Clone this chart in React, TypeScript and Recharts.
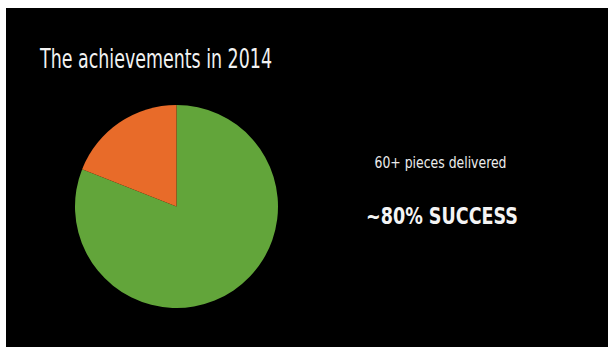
import { PieChart, Pie, Cell } from "recharts";

// share of delivered pieces
const outcomeNames = ["Success", "Not delivered"];
const outcomeValues = [81, 19];
const outcomeColors = ["#62a53a", "#e86b29"];

const titleText = "The achievements in 2014";
const noteText = "60+ pieces delivered";
const successText = "~80% SUCCESS";

const chartData = outcomeNames.map((name, i) => ({ name, value: outcomeValues[i] }));

const narrow = '"Liberation Sans Narrow", "DejaVu Sans Condensed", "Liberation Sans", sans-serif';

export default function App() {
  return (
    <div style={{ position: "fixed", left: 0, top: 0, width: 608, height: 347, background: "#fff" }}>
      <div style={{ position: "absolute", left: 6, top: 8, width: 602, height: 339, background: "#000" }} />
      <div style={{ position: "absolute", left: 0, top: 0 }}>
        <PieChart width={608} height={347} margin={{ top: 0, right: 0, bottom: 0, left: 0 }}>
          <Pie
            data={chartData}
            dataKey="value"
            nameKey="name"
            cx={176.5}
            cy={206.5}
            outerRadius={101.5}
            startAngle={90}
            endAngle={-270}
            stroke="none"
            isAnimationActive={false}
          >
            {chartData.map((d, i) => (
              <Cell key={d.name} fill={outcomeColors[i]} />
            ))}
          </Pie>
        </PieChart>
      </div>
      <svg width={608} height={347} style={{ position: "absolute", left: 0, top: 0 }}>
        <text x={40} y={68} fill="#f2f2f2" fontFamily={narrow} fontSize={26} textLength={232} lengthAdjust="spacingAndGlyphs">
          {titleText}
        </text>
        <text x={374.5} y={167.5} fill="#ececec" fontFamily={narrow} fontSize={15} textLength={132} lengthAdjust="spacingAndGlyphs">
          {noteText}
        </text>
        <text x={366} y={224} fill="#f4f4f4" fontFamily={narrow} fontSize={23} fontWeight="bold" textLength={152} lengthAdjust="spacingAndGlyphs">
          {successText}
        </text>
      </svg>
    </div>
  );
}
